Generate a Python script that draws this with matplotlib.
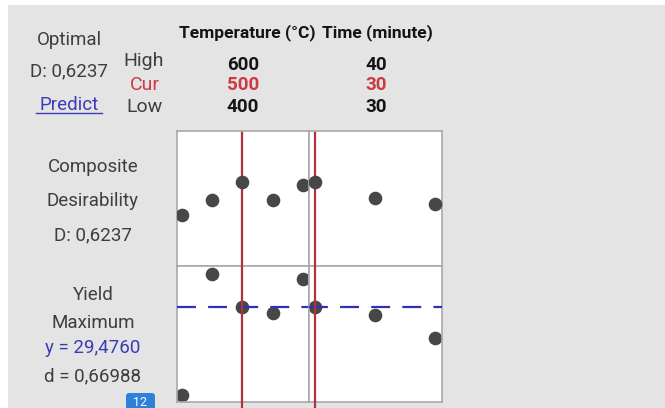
import matplotlib
matplotlib.use('Agg')
import matplotlib.pyplot as plt
from matplotlib.patches import Rectangle, FancyBboxPatch

# ---------------- data ----------------
factors = ["Temperature (°C)", "Time (minute)"]
high_vals = ["600", "40"]
cur_vals = ["500", "30"]
low_vals = ["400", "30"]

temp_levels = [400, 450, 500, 550, 600]
time_levels = [30, 35, 40]
temp_cur = 500
time_cur = 30

desir_temp = [0.373, 0.488, 0.6237, 0.488, 0.604]
desir_time = [0.6237, 0.506, 0.455]

yield_temp = [20.65, 32.75, 29.476, 28.82, 32.25]
yield_time = [29.476, 28.65, 26.32]
yield_opt = 29.4760

composite_lines = ["Composite", "Desirability", "D: 0,6237"]
yield_lines = ["Yield", "Maximum", "y = 29,4760", "d = 0,66988"]

# ---------------- figure ----------------
W, H = 665, 408
fig = plt.figure(figsize=(W / 100, H / 100), dpi=100, facecolor='white')

bg = fig.add_axes([0, 0, 1, 1], zorder=0)
bg.set_xlim(0, W)
bg.set_ylim(H, 0)
bg.axis('off')
bg.add_patch(Rectangle((8, 5), W - 8, H - 5, color='#e4e4e4', lw=0))

FONT = ['Roboto', 'DejaVu Sans']
DARK = '#3e3e3e'
BLACK = '#141414'
RED = '#cc3a44'
BLUE = '#3b3bb8'
GRID = '#a9a9a9'
DOT = '#474747'
VRED = '#b3313a'


def txt(x, y, s, size, color=DARK, weight='normal'):
    return bg.text(x, y, s, ha='center', va='baseline', fontsize=size,
                   color=color, fontweight=weight, family=FONT)


# top-left block
txt(69, 45, "Optimal", 13.5)
txt(69, 76, "D: 0,6237", 13.5)
txt(69, 110, "Predict", 13.5, color=BLUE)
bg.plot([36, 102], [112.6, 112.6], color=BLUE, lw=1.0)

txt(144, 66, "High", 14)
txt(145, 90, "Cur", 14, color=RED)
txt(145, 112.5, "Low", 14)

col_x = [247, 377]
val_x = [243, 376]
for i in range(2):
    txt(col_x[i], 37, factors[i], 12.5, color=BLACK, weight='bold')
    txt(val_x[i], 70, high_vals[i], 13.5, color=BLACK, weight='bold')
    txt(val_x[i], 90, cur_vals[i], 13.5, color=RED, weight='bold')
    txt(val_x[i], 111.7, low_vals[i], 13.5, color=BLACK, weight='bold')

# row labels
for s, yb in zip(composite_lines, [171.5, 205.5, 240]):
    txt(93, yb, s, 13.5)
ycols = [DARK, DARK, BLUE, DARK]
for s, yb, c in zip(yield_lines, [300, 328, 353, 381], ycols):
    txt(93, yb, s, 13.5, color=c)

# page badge
bg.add_patch(FancyBboxPatch((126, 393), 29, 22,
                            boxstyle='round,pad=0,rounding_size=3',
                            fc='#2f80d8', ec='none'))
bg.text(140.5, 406, "12", ha='center', va='baseline', fontsize=9,
        color='white', family=FONT)


# ---------------- panels ----------------
def px_axes(x0, y0, x1, y1):
    ax = fig.add_axes([x0 / W, 1 - y1 / H, (x1 - x0) / W, (y1 - y0) / H],
                      zorder=1)
    ax.set_facecolor('white')
    ax.set_xticks([])
    ax.set_yticks([])
    for sp in ax.spines.values():
        sp.set_color(GRID)
        sp.set_linewidth(1.2)
    return ax


XL, XM, XR = 177, 309, 441.7
YT, YM, YB = 131, 266, 402

ax_dt = px_axes(XL, YT, XM, YM)
ax_dm = px_axes(XM, YT, XR, YM)
ax_yt = px_axes(XL, YM, XM, YB)
ax_ym = px_axes(XM, YM, XR, YB)

temp_lim = (391.7, 610.4)
time_lim = (29.5, 40.55)
d_lim = (-0.02, 1.02)
y_lim = (19.95, 33.55)

for ax in (ax_dt, ax_yt):
    ax.set_xlim(*temp_lim)
for ax in (ax_dm, ax_ym):
    ax.set_xlim(*time_lim)
for ax in (ax_dt, ax_dm):
    ax.set_ylim(*d_lim)
for ax in (ax_yt, ax_ym):
    ax.set_ylim(*y_lim)

ms = 8.8
ax_dt.plot(temp_levels, desir_temp, 'o', ls='none', color=DOT, ms=ms,
           mec=DOT, zorder=3)
ax_dm.plot(time_levels, desir_time, 'o', ls='none', color=DOT, ms=ms,
           mec=DOT, zorder=3)
ax_yt.plot(temp_levels, yield_temp, 'o', ls='none', color=DOT, ms=ms,
           mec=DOT, zorder=2)
ax_ym.plot(time_levels, yield_time, 'o', ls='none', color=DOT, ms=ms,
           mec=DOT, zorder=2)

ax_dt.axvline(temp_cur, color=VRED, lw=1.6, zorder=2)
ax_dm.axvline(time_cur, color=VRED, lw=1.6, zorder=2)
ax_yt.axvline(temp_cur, ymin=-0.045, ymax=1, color=VRED, lw=1.6, zorder=4,
              clip_on=False)
ax_ym.axvline(time_cur, ymin=-0.045, ymax=1, color=VRED, lw=1.6, zorder=4,
              clip_on=False)

for ax in (ax_yt, ax_ym):
    ln = ax.axhline(yield_opt, color='#2f2fb8', lw=1.6, zorder=3)
    ln.set_dashes((8.5, 5.5))

fig.savefig('out.png', dpi=100, facecolor='white')
